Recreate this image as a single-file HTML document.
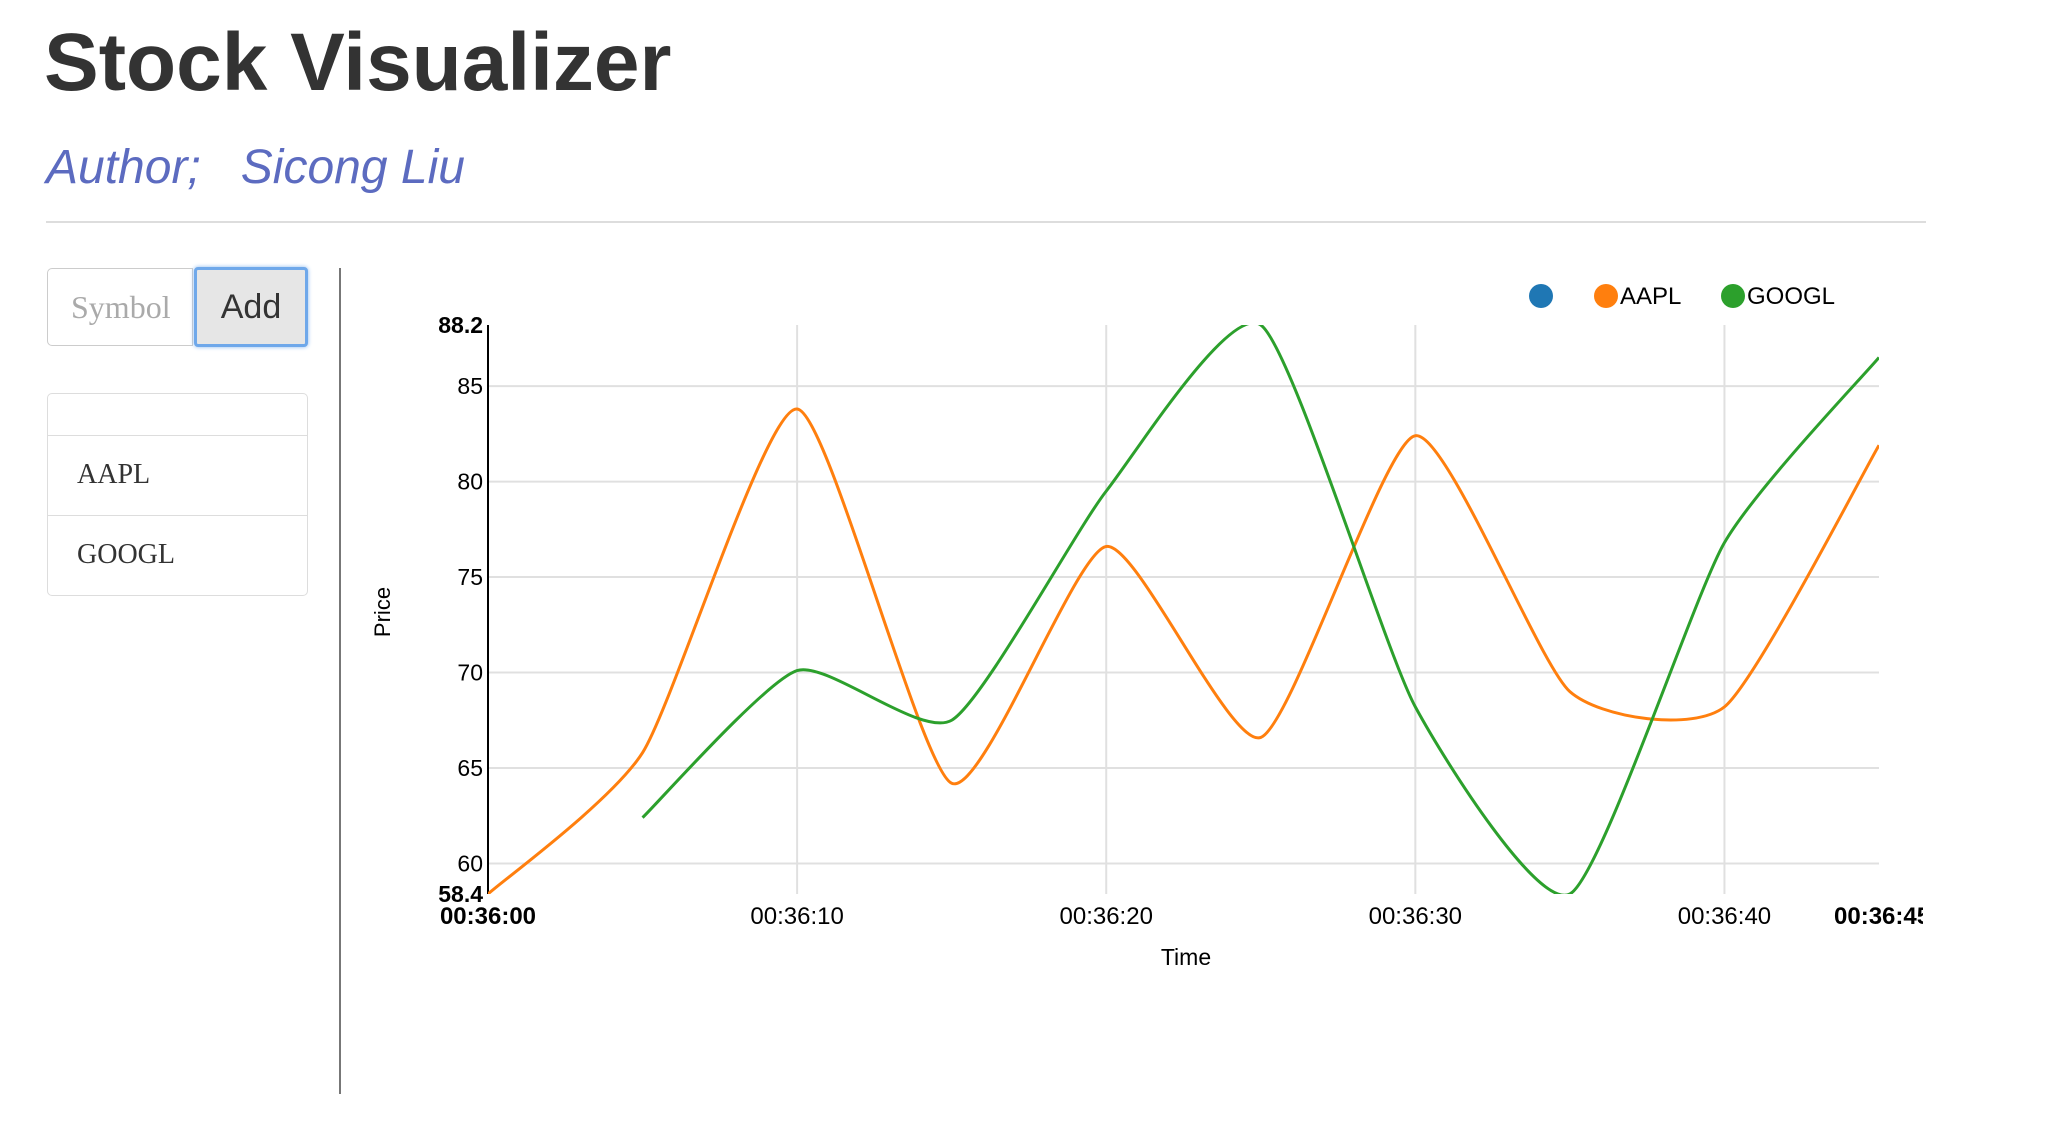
<!DOCTYPE html>
<html><head><meta charset="utf-8"><style>
body{margin:0;width:2048px;height:1124px;background:#fff;position:relative;overflow:hidden;font-family:"Liberation Sans",sans-serif}
.abs{position:absolute}
#title{left:44px;top:16px;font-size:82px;font-weight:bold;color:#333;letter-spacing:0px;white-space:nowrap}
#author{left:46px;top:140px;font-size:48px;font-style:italic;color:#5c6bc0;white-space:nowrap}
#hr{left:46px;top:221px;width:1880px;height:2px;background:#ddd}
#sym{left:47px;top:268px;width:146px;height:78px;border:1px solid #ccc;border-radius:5px 0 0 5px;box-sizing:border-box;font-family:"Liberation Serif",serif;font-size:32px;color:#aaa;padding:20px 0 0 23px;overflow:hidden;white-space:nowrap}
#sym span{display:inline-block;width:100px;overflow:hidden}
#add{left:194px;top:267px;width:114px;height:80px;box-sizing:border-box;border:3px solid #6fa8ea;box-shadow:0 0 4px #8ab8ee;background:#e6e6e6;border-radius:4px;font-size:34px;color:#333;text-align:center;line-height:74px}
#list{left:47px;top:393px;width:261px;height:203px;border:1px solid #ddd;border-radius:5px;box-sizing:border-box}
.row{position:absolute;left:0;width:259px;border-top:1px solid #ddd;font-family:"Liberation Serif",serif;font-size:28px;color:#333;padding-left:29px;box-sizing:border-box}
#vline{left:339px;top:268px;width:2px;height:826px;background:#777}
</style></head><body>
<div id="title" class="abs">Stock Visualizer</div>
<div id="author" class="abs">Author;&nbsp;&nbsp; Sicong Liu</div>
<div id="hr" class="abs"></div>
<div id="sym" class="abs"><span>Symbol</span></div>
<div id="add" class="abs">Add</div>
<div id="list" class="abs">
<div class="row" style="top:41px;height:80px;line-height:78px">AAPL</div>
<div class="row" style="top:121px;height:80px;line-height:78px">GOOGL</div>
</div>
<div id="vline" class="abs"></div>
<svg id="chart" class="abs" style="left:0;top:0" width="2048" height="1124"></svg>
<script>
const times=[0,5,10,15,20,25,30,35,40,45];
const aaplValues=[58.4,65.8,83.8,64.2,76.6,66.6,82.4,69.0,68.2,81.9];
const googlTimes=[5,10,15,20,25,30,35,40,45];
const googlValues=[62.4,70.1,67.5,79.5,88.2,68.2,58.4,76.8,86.5];
const yTicks=[60,65,70,75,80,85];
const xTicks=[10,20,30,40];
const xTickLabels=["00:36:10","00:36:20","00:36:30","00:36:40"];
const yMin=58.4,yMax=88.2,tMax=45;
const NS="http://www.w3.org/2000/svg";
const svg=document.getElementById('chart');
const X0=488,X1=1879,Y0=325,Y1=894;
const K=0.1;
function x(t){return X0+t/tMax*(X1-X0);}
function y(v){return Y0+(yMax-v)/(yMax-yMin)*(Y1-Y0);}
function mk(tag,a,txt){const e=document.createElementNS(NS,tag);for(const k in a)e.setAttribute(k,a[k]);if(txt!==undefined)e.textContent=txt;svg.appendChild(e);return e;}
yTicks.forEach(v=>{
 const g=mk('line',{x1:X0,x2:X1,y1:y(v),y2:y(v),stroke:'#e0e0e0','stroke-width':2});
 
 
 const t=mk('text',{x:483,y:y(v)+8,'text-anchor':'end','font-size':23,fill:'#000'},String(v));
 
 
});
xTicks.forEach((s,i)=>{
 const g=mk('line',{x1:x(s),x2:x(s),y1:Y0,y2:Y1,stroke:'#e0e0e0','stroke-width':2});
 
 
 const t=mk('text',{x:x(s),y:924,'text-anchor':'middle','font-size':24,fill:'#000'},xTickLabels[i]);
 
 
});
[[yMax,'88.2'],[yMin,'58.4']].forEach(([v,l])=>{
 const t=mk('text',{x:483,y:y(v)+8,'text-anchor':'end','font-size':23,'font-weight':'bold',fill:'#000'},l);
 
 
});
let e1=mk('text',{x:x(0),y:924,'text-anchor':'middle','font-size':24,'font-weight':'bold'},'00:36:00');


let e2=mk('text',{x:x(45)-45,y:924,'font-size':24,'font-weight':'bold'},'00:36:45');


mk('rect',{x:1923,y:895,width:125,height:40,fill:'#fff'});
let ax=mk('line',{x1:X0,x2:X0,y1:Y0,y2:Y1,stroke:'#000','stroke-width':2});


let pl=mk('text',{transform:'translate(390,612) rotate(-90)','text-anchor':'middle','font-size':22},'Price');


let tl=mk('text',{x:1186,y:965,'text-anchor':'middle','font-size':23},'Time');


function path(ts,vs){
 const p=ts.map((t,i)=>[x(t),y(vs[i])]);
 let d='M'+p[0][0]+','+p[0][1];
 for(let i=0;i<p.length-1;i++){
  const a=p[i-1]||p[i],b=p[i],c=p[i+1],e=p[i+2]||p[i+1];
  d+=' C'+(b[0]+(c[0]-a[0])*K)+','+(b[1]+(c[1]-a[1])*K)+' '+(c[0]-(e[0]-b[0])*K)+','+(c[1]-(e[1]-b[1])*K)+' '+c[0]+','+c[1];
 }
 return d;
}
const clip=mk('clipPath',{id:'cp'});
const cr=document.createElementNS(NS,'rect');
cr.setAttribute('x',X0);cr.setAttribute('y',Y0);cr.setAttribute('width',X1-X0);cr.setAttribute('height',Y1-Y0);
clip.appendChild(cr);
let la=mk('path',{d:path(times,aaplValues),fill:'none',stroke:'#ff7f0e','stroke-width':3,'clip-path':'url(#cp)'});


let lg=mk('path',{d:path(googlTimes,googlValues),fill:'none',stroke:'#2ca02c','stroke-width':3,'clip-path':'url(#cp)'});


[[1541,'#1f77b4',''],[1606,'#ff7f0e','AAPL'],[1733,'#2ca02c','GOOGL']].forEach(([cx,c,l])=>{
 const d=mk('circle',{cx:cx,cy:296,r:12,fill:c});
 
 
 if(l){const t=mk('text',{x:cx+14,y:304,'font-size':24},l);
 
 }
});
</script>
</body></html>
